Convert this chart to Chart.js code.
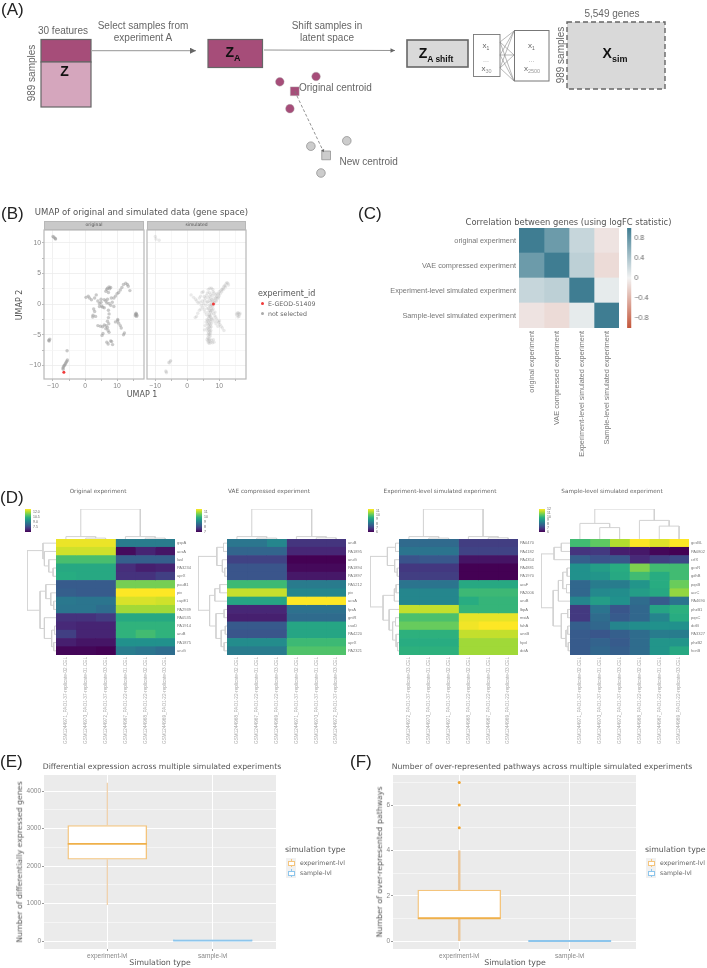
<!DOCTYPE html>
<html>
<head>
<meta charset="utf-8">
<title>Simulated experiments figure</title>
<script src="https://cdn.jsdelivr.net/npm/chart.js@4"></script>
<style>
  html, body { margin: 0; padding: 0; background: #fff; }
  /* the source figure is a soft, resampled bitmap */
  #page { position: relative; width: 707px; height: 968px; overflow: hidden; font-family: "DejaVu Sans", sans-serif; filter: blur(0.4px); }
  #page canvas { position: absolute; }
  #page span { position: absolute; white-space: nowrap; line-height: 1; }
  #page div { position: absolute; box-sizing: border-box; }
  #diagram { position: absolute; left: 0; top: 0; font-family: "Liberation Sans", sans-serif; }
</style>
</head>
<body>
<div id="page">
<svg id="diagram" width="707" height="200" viewBox="0 0 707 200">
  <defs>
    <marker id="head" markerWidth="6" markerHeight="6" refX="5" refY="2.5" orient="auto"><path d="M0,0 L5,2.5 L0,5 z" fill="#666"/></marker>
  </defs>
  <rect x="41" y="39.5" width="50" height="22.5" fill="#a64d79" stroke="#666" stroke-width="1.2"/>
  <rect x="41" y="62" width="50" height="45" fill="#d5a6bd" stroke="#666" stroke-width="1.2"/>
  <text x="64.5" y="76" font-size="14" font-weight="bold" text-anchor="middle" fill="#111">Z</text>
  <text x="63" y="34" font-size="10" text-anchor="middle" fill="#666">30 features</text>
  <text transform="translate(35,73) rotate(-90)" font-size="10" text-anchor="middle" fill="#666">989 samples</text>
  <text x="143" y="28.5" font-size="10" text-anchor="middle" fill="#666">Select samples from</text>
  <text x="143" y="40.5" font-size="10" text-anchor="middle" fill="#666">experiment A</text>
  <line x1="91" y1="50.7" x2="196" y2="50.7" stroke="#aaa" stroke-width="1.2" marker-end="url(#head)"/>
  <rect x="208" y="39.5" width="54.5" height="28" fill="#a64d79" stroke="#666" stroke-width="1.2"/>
  <text x="233" y="57" font-size="14" font-weight="bold" text-anchor="middle" fill="#111">Z<tspan font-size="9" dy="4">A</tspan></text>
  <text x="327" y="28.5" font-size="10" text-anchor="middle" fill="#666">Shift samples in</text>
  <text x="327" y="40.5" font-size="10" text-anchor="middle" fill="#666">latent space</text>
  <line x1="264" y1="50" x2="395" y2="50.5" stroke="#888" stroke-width="0.9" marker-end="url(#head)"/>
  <rect x="407" y="40" width="61" height="27" fill="#d9d9d9" stroke="#666" stroke-width="1.6"/>
  <text x="436" y="58" font-size="14" font-weight="bold" text-anchor="middle" fill="#111">Z<tspan font-size="8.5" dy="4">A shift</tspan></text>
  <rect x="473.5" y="34.5" width="26.5" height="42" fill="#fff" stroke="#777" stroke-width="0.9"/>
  <rect x="514.5" y="30.5" width="34.5" height="50.5" fill="#fff" stroke="#777" stroke-width="1"/>
  <g stroke="#888" stroke-width="0.6">
    <line x1="500" y1="42" x2="514" y2="31"/><line x1="500" y1="42" x2="514" y2="55"/><line x1="500" y1="42" x2="514" y2="81"/>
    <line x1="500" y1="55" x2="514" y2="31"/><line x1="500" y1="55" x2="514" y2="55"/><line x1="500" y1="55" x2="514" y2="81"/>
    <line x1="500" y1="68" x2="514" y2="31"/><line x1="500" y1="68" x2="514" y2="55"/><line x1="500" y1="68" x2="514" y2="81"/>
  </g>
  <text x="486" y="47.5" font-size="8" text-anchor="middle" fill="#666">x<tspan font-size="5" dy="2">1</tspan></text>
  <text x="486" y="62" font-size="7" text-anchor="middle" fill="#aaa">...</text>
  <text x="486.5" y="71" font-size="8" text-anchor="middle" fill="#666">x<tspan font-size="5.5" dy="2" fill="#999">30</tspan></text>
  <text x="531.5" y="47.5" font-size="8" text-anchor="middle" fill="#666">x<tspan font-size="5" dy="2">1</tspan></text>
  <text x="531.5" y="62" font-size="7" text-anchor="middle" fill="#aaa">...</text>
  <text x="532" y="71" font-size="8" text-anchor="middle" fill="#666">x<tspan font-size="5.5" dy="2" fill="#999">2500</tspan></text>
  <rect x="567" y="22" width="98" height="67" fill="#d9d9d9" stroke="#666" stroke-width="1.4" stroke-dasharray="5,3"/>
  <text x="615" y="58" font-size="14" font-weight="bold" text-anchor="middle" fill="#111">X<tspan font-size="9" dy="4">sim</tspan></text>
  <text x="612" y="16.5" font-size="10" text-anchor="middle" fill="#666">5,549 genes</text>
  <text transform="translate(564,55) rotate(-90)" font-size="10" text-anchor="middle" fill="#666">989 samples</text>
  <text x="299" y="90.5" font-size="10" fill="#666">Original centroid</text>
  <text x="339.5" y="164.5" font-size="10" fill="#666">New centroid</text>
</svg>
</div>
<script>
// ---- panel A: latent space marks (canvas units) ----
const latentOriginalX = [15, 57, 26.7];
const latentOriginalY = [113.3, 119.3, 83.3];
const latentShiftedX = [51, 92.7, 62.7];
const latentShiftedY = [41.3, 47.3, 11.3];
const latentCentroidX = [32.3];
const latentCentroidY = [102.7];
const latentNewCentroidX = [68.7];
const latentNewCentroidY = [31];
const latentArrowTipX = [65];
const latentArrowTipY = [36.5];

// ---- panel B: UMAP ----
const umapXTicks = [-10, -5, 0, 5, 10, 15];
const umapYTicks = [-10, -7.5, -5, -2.5, 0, 2.5, 5, 7.5, 10];
const selectedOriginal = [[-6.6, -11.1]];
const selectedSimulated = [[8.2, 0]];
const originalPoints = [
  [-10, 11], [-9.7, 10.9], [-9.3, 10.7], [-9.2, 10.6], [-11.3, -5.9], [-11, -5.7], [-11.2, -6],
  [-6.9, -10.4], [-6.7, -10.2], [-6.5, -10], [-6.3, -9.9], [-6.1, -9.7], [-5.9, -9.5], [-5.7, -9.3], [-5.5, -9.1], [-6.8, -10.6], [-5.6, -7.6],
  [15.7, -1.9], [16, -1.6], [16.2, -1.8], [15.9, -1.5], [16.1, -2], [15.8, -1.7],
  [0.3, 1.1], [1, 1.3], [1.4, 1], [2, 0.7], [3, 1], [3.5, 1.5], [4, 0.5], [4.5, 0.1], [5, 0.3], [4.5, -0.4], [5.2, -0.3], [5, 0.8],
  [6, 0.7], [6.5, 0.5], [7, 0.8], [6.8, 0.2], [7.5, 0.1], [8, -0.2], [8.5, 0.3], [9, -0.4], [8.2, 1], [9, 1], [9.5, 1.3], [10, 1.7],
  [10.5, 1.9], [11, 2.3], [11.5, 2.7], [12, 3.2], [12.7, 3.4], [13.2, 3.2], [13.5, 2.9], [14, 2.2],
  [6.5, 2.1], [7, 2.6], [7.5, 2.8], [8, 2.7], [7.3, 1.9], [6.8, 2.4], [7.7, 2.5],
  [2.5, -1.8], [3, -1.2], [2.7, -0.8], [3.3, -2], [2.4, -2.1], [5.5, -0.5], [6, -0.6], [7.3, -1], [7.5, -1.6], [7.3, -2.2], [7, -2.8],
  [7.4, -3.2], [6.6, -3.5], [7, -3.8], [7.2, -4.3], [4, -3.5], [4.8, -3.6], [5.5, -3.7], [6, -3.4], [6.5, -4], [5.6, -4.8], [5.3, -5.1],
  [7.5, -4.6], [6.8, -6.2], [7.2, -6.5], [8.3, -6.1], [8.6, -6.6], [8, -6], [9.5, -2.9], [10.2, -2.7], [10.5, -3.1], [11, -3.5], [11.3, -3.9],
  [12.3, -4.7], [12, -5], [10.2, -2.5]
];
const simulatedPoints = [
  [-10, 11], [-9.8, 10.6], [-8.8, 10.4], [-6.6, -11], [-6.5, -11.2], [-6.7, -10.9], [-5.6, -9.6], [-5.3, -9.3], [-5.8, -9.5], [-5.2, -9.2],
  [15.4, -1.6], [15.7, -1.8], [16, -1.5], [16.2, -2], [16.4, -1.7], [15.9, -2.1], [16.5, -1.5], [15.8, -1.4],
  [1.2, 1.5], [2, 1.1], [2.6, 0.8], [3, 0.5], [3.4, 0.2], [4, 0.3], [4.4, -0.2], [3.8, 1], [4.6, 1.9], [5, 2], [5.3, 1.2], [5.5, 0.6], [4.9, -0.5], [5.3, -0.9],
  [5.8, -0.2], [6.2, 0.3], [5.6, -1.3], [6, -1.7], [2.9, -2], [2.5, -2.2], [3.3, -1.5], [3.8, -1], [4.3, -0.8], [4.7, 0.5], [5.1, 0.1], [5.7, 1], [6, 1.4], [4.2, 1.3],
  [6.6, 2.4], [7.1, 2.6], [7.6, 2.6], [8, 2.4], [6.9, 1.9], [7.4, 1.6], [7.9, 1.4], [8.4, 1.8], [8.8, 1.5], [9.2, 1.2], [9.6, 1.1], [7, 1.3], [8.1, 2], [6.3, 1.8],
  [7.4, 1], [7.7, 0.7], [8, 0.5], [7.3, 0.3], [7.6, 0], [8, -0.3], [7.2, -0.4], [7.5, -0.7], [7.8, -1], [7, -1], [7.3, -1.3], [7.6, -1.6], [7.1, 0.6], [8.3, 0.3], [6.9, -0.2], [7.7, -0.2], [8.1, -0.8], [6.7, -0.7],
  [6.9, -1.7], [7.2, -2], [7.5, -2.2], [6.8, -2.3], [7.1, -2.6], [7.4, -2.8], [6.7, -2.9], [7, -3.2], [7.3, -3.4], [6.6, -3.4], [6.9, -3.7], [7.2, -3.9],
  [7, -1.9], [7.4, -1.1], [6.6, -2], [6.4, -2.7], [6.3, -3.2], [7.6, -2.5], [7.6, -3.1], [7.5, -3.7], [7.4, -4.3], [6.2, -4], [7.3, -4.7], [7.2, -5.2],
  [6.5, -3.9], [6.8, -4.2], [7.1, -4.4], [6.4, -4.4], [6.7, -4.7], [7, -4.9], [6.5, -5], [6.8, -5.3], [6.4, -5.5], [6.7, -5.7], [6.9, -6], [6.5, -6],
  [7.3, -6.2], [7.9, -6.3], [8.4, -6.2], [6.2, -5.8], [8.2, -5.8], [5.6, -3.5], [5.9, -2.9], [6.2, -2.5], [5.4, -4.2], [7.1, -5.7], [7.6, -5.9], [6.6, -6.3], [7, -6.4],
  [8.3, -1.5], [8.6, -1.9], [8.9, -2.1], [9.2, -2.4], [9.5, -2.8], [9.9, -3], [10.2, -3.3], [10.6, -3.6], [11, -3.9], [11.5, -4.3], [9, -3.2], [9.6, -3.6], [8.1, -2.4], [8.5, -2.8], [10.1, -2.7], [8.7, -1.3],
  [9.3, 1.7], [9.7, 1.6], [10, 2], [10.3, 1.7], [10.6, 2.2], [10.9, 2.4], [11.2, 2.6], [11.5, 2.9], [11.8, 3], [12.1, 3.3], [12.4, 3.5], [12.7, 3.4], [12.9, 3.1], [10.8, 2], [11.4, 2.4], [12, 2.8],
  [8.4, 0.9], [8.8, 0.6], [9.2, 0.5], [9.5, 0.9], [6.6, 1], [6.4, 0.4], [6.2, -0.7], [6.6, -1.3], [10, 1.3], [8.9, 1], [8.6, 0.2]
];

// ---- panel C: correlation ----
const corrLabels = ['original experiment', 'VAE compressed experiment', 'Experiment-level simulated experiment', 'Sample-level simulated experiment'];
const corrValues = [
  [1, 0.75, 0.25, -0.1],
  [0.75, 1, 0.3, -0.15],
  [0.25, 0.3, 1, 0.07],
  [-0.1, -0.15, 0.07, 1]
];
const corrTicks = [-0.8, -0.4, 0, 0.4, 0.8];

// ---- panel D: clustered heatmaps ----
const originalGenes = ['gspA', 'acsA', 'lasI', 'PA3234', 'aprX', 'pauB1', 'piv', 'cupE1', 'PA2939', 'PA0535', 'PA1914', 'aruB', 'PA1875', 'aruG'];
const originalSamples = ['GSM1244971_PAO1-37-replicate-02.CEL', 'GSM1244970_PAO1-37-replicate-01.CEL', 'GSM1244972_PAO1-37-replicate-03.CEL', 'GSM1244967_PAO1-22-replicate-01.CEL', 'GSM1244968_PAO1-22-replicate-02.CEL', 'GSM1244969_PAO1-22-replicate-03.CEL'];
const originalExpr = [
  [12.8, 12.8, 12.8, 8.9, 8.9, 8.9],
  [12.5, 12.5, 12.5, 6.2, 6.7, 6.4],
  [10.9, 10.9, 10.9, 8.1, 8.1, 8.1],
  [10.2, 10.2, 10.2, 6.9, 6.6, 6.7],
  [10.3, 10.2, 10.2, 7, 7, 7.3],
  [8, 8, 8, 11.5, 11.5, 11.5],
  [8.1, 8, 8, 13, 13, 13],
  [8.8, 8.7, 8.7, 12.6, 12.6, 12.5],
  [8.7, 8.7, 8.5, 12, 12, 12],
  [7, 7, 7.2, 10.2, 10.2, 10.2],
  [6.8, 6.7, 6.7, 10.5, 10.5, 10.5],
  [7.3, 6.7, 6.7, 10.5, 10.8, 10.5],
  [6.6, 6.4, 6.4, 9.5, 9.5, 9.5],
  [6.1, 6.1, 6, 8.9, 8.7, 8.5]
];
const vaeGenes = ['aruB', 'PA1895', 'aruG', 'PA1894', 'PA1897', 'PA5212', 'piv', 'acsA', 'fpsA', 'gntR', 'csoD', 'PA4220', 'aprX', 'PA2321'];
const vaeSamples = ['GSM1244968_PAO1-22-replicate-02.CEL', 'GSM1244967_PAO1-22-replicate-01.CEL', 'GSM1244969_PAO1-22-replicate-03.CEL', 'GSM1244971_PAO1-37-replicate-02.CEL', 'GSM1244970_PAO1-37-replicate-01.CEL', 'GSM1244972_PAO1-37-replicate-03.CEL'];
const vaeExpr = [
  [8.8, 8.8, 9.1, 7.7, 7.7, 7.7],
  [8.5, 8.5, 8.5, 7.5, 7.5, 7.5],
  [7.9, 7.9, 7.9, 7, 7, 7],
  [8.2, 8.2, 8.2, 7.1, 7.1, 7.1],
  [8.2, 8.2, 8.2, 7.3, 7.3, 7.3],
  [10.1, 10.1, 10.1, 8.9, 8.9, 8.9],
  [11.2, 11.2, 11.2, 9.1, 9.1, 9.1],
  [9.7, 9.7, 9.7, 11.6, 11.6, 11.6],
  [7.5, 7.5, 7.5, 8.7, 8.7, 8.7],
  [7.4, 7.4, 7.4, 8.6, 8.6, 8.6],
  [8.3, 8.3, 8.3, 9.7, 9.7, 9.7],
  [8.2, 8.2, 8.2, 9.7, 9.7, 9.7],
  [9.2, 9.2, 9.2, 10.1, 10.1, 10.1],
  [8.9, 8.9, 8.9, 10.3, 10.3, 10.3]
];
const experimentGenes = ['PA0470', 'PA4182', 'PA4354', 'PA4881', 'PA1970', 'araF', 'PA2006', 'aruB', 'lbpA', 'msiA', 'fahA', 'ansB', 'hpd', 'dctA'];
const experimentSamples = ['GSM1244972_PAO1-37-replicate-03.CEL', 'GSM1244970_PAO1-37-replicate-01.CEL', 'GSM1244971_PAO1-37-replicate-02.CEL', 'GSM1244968_PAO1-22-replicate-02.CEL', 'GSM1244967_PAO1-22-replicate-01.CEL', 'GSM1244969_PAO1-22-replicate-03.CEL'];
const experimentExpr = [
  [7.9, 7.9, 7.9, 7, 7, 7],
  [8.1, 8.1, 8.1, 7.1, 7.1, 7.1],
  [7.4, 7.5, 7.5, 6.3, 6.3, 6.3],
  [6.9, 6.9, 6.9, 6, 6, 6],
  [7, 7, 7, 6, 6, 6],
  [8.1, 8.1, 8.1, 9.3, 9.3, 9.3],
  [8.5, 8.5, 8.5, 9.7, 9.7, 9.7],
  [8.5, 8.5, 8.5, 9.4, 9.6, 9.6],
  [11, 11, 11, 9.6, 9.6, 9.6],
  [9.9, 9.9, 9.9, 11.3, 11.3, 11.3],
  [10.2, 10.2, 10.2, 11.4, 11.5, 11.5],
  [9.5, 9.5, 9.5, 11, 11, 11],
  [9.4, 9.4, 9.4, 10.7, 10.7, 10.7],
  [9.5, 9.5, 9.5, 10.7, 10.7, 10.7]
];
const sampleGenes = ['gcsBL', 'PA0802', 'crfX', 'gcsR', 'gdhB', 'pqsB', 'acrC', 'PA4690', 'phzB1', 'pqsC', 'dctB', 'PA3327', 'phzB2', 'hcnB'];
const sampleSamples = ['GSM1244971_PAO1-37-replicate-02.CEL', 'GSM1244970_PAO1-37-replicate-01.CEL', 'GSM1244972_PAO1-37-replicate-03.CEL', 'GSM1244968_PAO1-22-replicate-02.CEL', 'GSM1244967_PAO1-22-replicate-01.CEL', 'GSM1244969_PAO1-22-replicate-03.CEL'];
const sampleExpr = [
  [10.1, 10.5, 11.3, 12, 11.7, 12],
  [6.9, 7, 6.5, 6.4, 6.1, 6],
  [7.8, 7.5, 7.6, 6.7, 7.1, 7.3],
  [9, 9.3, 9.7, 10.8, 10.1, 10.1],
  [9, 9.1, 9.6, 10.1, 9.7, 10.1],
  [8, 8.5, 8.5, 9.1, 9.7, 10.6],
  [8, 8.8, 8.9, 9.3, 9.6, 11],
  [8.7, 9.3, 9, 8.1, 7.7, 8.3],
  [7, 8.3, 7.6, 8, 9.5, 9.8],
  [7, 8.1, 7.7, 8, 8.7, 9.7],
  [7.8, 8, 8.7, 8.9, 9, 9],
  [7.7, 7.6, 7.8, 8.1, 8.5, 8.5],
  [7.7, 7.9, 7.7, 8.1, 9.1, 9.1],
  [7.7, 8, 7.8, 8.1, 9.1, 9.6]
];

// dendrogram merges: [position a, position b, height a, height b, merge height]
const originalColTree = [[1.5, 2.5, 0, 0, 0.03], [0.5, 2, 0, 0.03, 0.08], [4.5, 5.5, 0, 0, 0.03], [3.5, 5, 0, 0.03, 0.08], [1.25, 4.25, 0.08, 0.08, 1]];
const originalRowTree = [
  [3.5, 4.5, 0, 0, 0.1], [2.5, 4, 0, 0.1, 0.25], [1.5, 3.25, 0, 0.25, 0.4], [0.5, 2.4, 0, 0.4, 0.45],
  [7.5, 8.5, 0, 0, 0.08], [6.5, 8, 0, 0.08, 0.18], [5.5, 7.2, 0, 0.18, 0.35],
  [10.5, 11.5, 0, 0, 0.05], [12.5, 13.5, 0, 0, 0.08], [11, 13, 0.05, 0.08, 0.15], [9.5, 12, 0, 0.15, 0.4],
  [6.3, 10.8, 0.35, 0.4, 0.55], [1.4, 8.6, 0.45, 0.55, 1]
];
const vaeColTree = [[1.5, 2.5, 0, 0, 0.03], [0.5, 2, 0, 0.03, 0.08], [4.5, 5.5, 0, 0, 0.04], [3.5, 5, 0, 0.04, 0.08], [1.25, 4.27, 0.08, 0.08, 1]];
const vaeRowTree = [
  [3.5, 4.5, 0, 0, 0.08], [2.5, 4, 0, 0.08, 0.16], [0.5, 1.5, 0, 0, 0.12], [1, 3.2, 0.12, 0.16, 0.35],
  [5.5, 6.5, 0, 0, 0.25], [6, 7.5, 0.25, 0, 0.42], [8.5, 9.5, 0, 0, 0.1], [10.5, 11.5, 0, 0, 0.06], [12.5, 13.5, 0, 0, 0.1],
  [11, 13, 0.06, 0.1, 0.2], [9, 12, 0.1, 0.2, 0.38], [6.8, 10.5, 0.42, 0.38, 0.6], [2.1, 8.6, 0.35, 0.6, 1]
];
const experimentColTree = [[1.5, 2.5, 0, 0, 0.03], [0.5, 2, 0, 0.03, 0.08], [4.5, 5.5, 0, 0, 0.04], [3.5, 5, 0, 0.04, 0.08], [1.23, 4.24, 0.08, 0.08, 1]];
const experimentRowTree = [
  [0.5, 1.5, 0, 0, 0.12], [3.5, 4.5, 0, 0, 0.06], [2.5, 4, 0, 0.06, 0.15], [1, 3.2, 0.12, 0.15, 0.4],
  [5.5, 6.5, 0, 0, 0.1], [6, 7.5, 0.1, 0, 0.16], [9.5, 10.5, 0, 0, 0.12], [12.5, 13.5, 0, 0, 0.05], [11.5, 13, 0, 0.05, 0.1], [10, 12.2, 0.12, 0.1, 0.22],
  [8.5, 11, 0, 0.22, 0.34], [6.8, 9.8, 0.16, 0.34, 0.55], [2.1, 8.2, 0.4, 0.55, 1]
];
const sampleColTree = [[1.5, 2.5, 0, 0, 0.38], [0.5, 2, 0, 0.38, 0.52], [4.5, 5.5, 0, 0, 0.43], [3.5, 5, 0, 0.43, 0.62], [1.25, 4.25, 0.52, 0.62, 1]];
const sampleRowTree = [
  [0.5, 1.5, 0, 0, 0.3], [1, 2.5, 0.3, 0, 0.55], [3.5, 4.5, 0, 0, 0.1], [5.5, 6.5, 0, 0, 0.12], [4, 6, 0.1, 0.12, 0.25], [5, 7.5, 0.25, 0, 0.4],
  [8.5, 9.5, 0, 0, 0.08], [10.5, 11.5, 0, 0, 0.08], [12.5, 13.5, 0, 0, 0.06], [11, 13, 0.08, 0.06, 0.14], [9, 12, 0.08, 0.14, 0.3],
  [6.2, 10.5, 0.4, 0.3, 0.58], [1.8, 8.3, 0.55, 0.58, 1]
];

// ---- panels E and F: box plots ----
const simulationTypes = ['experiment-lvl', 'sample-lvl'];
const degMin = [960, 0];
const degQ1 = [2180, 0];
const degMedian = [2590, 8];
const degQ3 = [3080, 30];
const degMax = [4220, 30];
const pathMin = [0, 0];
const pathQ1 = [1, 0];
const pathMedian = [1, 0];
const pathQ3 = [2.25, 0];
const pathMax = [4, 0];
const pathOutliers = [5, 6, 7];

// ---- helpers ----
const page = document.getElementById('page');
const viridisStops = ['#440154', '#472d7b', '#3b528b', '#2c728e', '#21918c', '#28ae80', '#5ec962', '#addc30', '#fde725'];
const divergingStops = ['#c4563a', '#f3f3f3', '#3f7d92'];

function hexToRgb(hex) {
  return [1, 3, 5].map(i => parseInt(hex.slice(i, i + 2), 16));
}

function rampColor(stops, t) {
  const p = Math.min(Math.max(t, 0), 1) * (stops.length - 1);
  const i = Math.min(Math.floor(p), stops.length - 2);
  const a = hexToRgb(stops[i]);
  const b = hexToRgb(stops[i + 1]);
  const f = p - i;
  return 'rgb(' + a.map((c, k) => Math.round(c + (b[k] - c) * f)).join(',') + ')';
}

function addCanvas(x, y, w, h) {
  const canvas = document.createElement('canvas');
  canvas.width = w;
  canvas.height = h;
  canvas.style.left = x + 'px';
  canvas.style.top = y + 'px';
  canvas.style.width = w + 'px';
  canvas.style.height = h + 'px';
  page.appendChild(canvas);
  return canvas;
}

function addText(text, x, y, size, opts = {}) {
  const span = document.createElement('span');
  span.textContent = text;
  span.style.left = x + 'px';
  span.style.top = y + 'px';
  span.style.fontSize = size + 'px';
  span.style.color = opts.color || '#555';
  if (opts.font) span.style.fontFamily = opts.font;
  const hShift = opts.align === 'left' ? '0' : '-50%';
  span.style.transform = 'translate(' + hShift + ',-50%)' + (opts.rotate ? ' rotate(' + opts.rotate + 'deg)' : '');
  page.appendChild(span);
}

function addBox(x, y, w, h, css) {
  const div = document.createElement('div');
  div.style.left = x + 'px';
  div.style.top = y + 'px';
  div.style.width = w + 'px';
  div.style.height = h + 'px';
  Object.assign(div.style, css);
  page.appendChild(div);
}

const baseOptions = () => ({
  responsive: false,
  animation: false,
  devicePixelRatio: 1,
  plugins: { legend: { display: false }, tooltip: { enabled: false } },
  events: []
});

const MARGIN = 4;

// fixed axis sizes so the chart area lands exactly where the figure wants it
function fixHeight(size) {
  return s => { s.height = size; s.paddingLeft = 0; s.paddingRight = 0; };
}
function fixWidth(size) {
  return s => { s.width = size; s.paddingTop = 0; s.paddingBottom = 0; };
}

const panelFrame = {
  id: 'panelFrame',
  beforeDraw(chart, args, o) {
    if (!o.fill) return;
    const a = chart.chartArea;
    chart.ctx.fillStyle = o.fill;
    chart.ctx.fillRect(a.left, a.top, a.width, a.height);
  },
  afterDraw(chart, args, o) {
    if (!o.stroke) return;
    const a = chart.chartArea;
    chart.ctx.strokeStyle = o.stroke;
    chart.ctx.lineWidth = o.width || 1;
    chart.ctx.strokeRect(a.left, a.top, a.width, a.height);
  }
};

function heatmap(box, rowLabels, colLabels, matrix, colorOf, style) {
  const canvas = addCanvas(box.x - style.left - MARGIN, box.y - MARGIN,
    box.w + style.left + style.right + MARGIN * 2, box.h + style.bottom + MARGIN * 2);
  const options = baseOptions();
  options.indexAxis = 'y';
  options.layout = { padding: MARGIN };
  options.scales = {
    x: {
      type: 'linear', stacked: true, min: 0, max: colLabels.length,
      grid: { display: false, drawTicks: false }, border: { display: false },
      afterBuildTicks: s => { s.ticks = colLabels.map((c, i) => ({ value: i + 0.5 })); },
      afterFit: fixHeight(style.bottom),
      ticks: {
        autoSkip: false, minRotation: 90, maxRotation: 90, padding: style.padding,
        color: style.colColor, font: { size: style.colSize },
        callback: v => colLabels[Math.floor(v)]
      }
    },
    y: {
      type: 'category', stacked: true, position: style.left ? 'left' : 'right',
      grid: { display: false, drawTicks: false }, border: { display: false },
      afterFit: fixWidth(style.left || style.right),
      ticks: { autoSkip: false, padding: style.padding, color: style.color, font: { size: style.size } }
    }
  };
  new Chart(canvas, {
    type: 'bar',
    data: {
      labels: rowLabels,
      datasets: colLabels.map((c, col) => ({
        label: c,
        data: rowLabels.map(() => 1),
        backgroundColor: rowLabels.map((r, row) => colorOf(matrix[row][col])),
        borderWidth: 0,
        barPercentage: 1,
        categoryPercentage: 1
      }))
    },
    options
  });
}

function colorbar(box, min, max, ticks, stops, size, labelSpace, padding) {
  const canvas = addCanvas(box.x - MARGIN, box.y - MARGIN, box.w + labelSpace + MARGIN * 2, box.h + MARGIN * 2);
  const options = baseOptions();
  options.layout = { padding: MARGIN };
  options.scales = {
    x: { display: false },
    y: {
      position: 'right', min, max,
      grid: { display: false, drawTicks: false }, border: { display: false },
      afterBuildTicks: s => { s.ticks = ticks.map(value => ({ value })); },
      afterFit: fixWidth(labelSpace),
      ticks: { autoSkip: false, padding, color: '#666', font: { size }, callback: v => (Number.isInteger(v) && max - min > 6 ? v.toFixed(1) : (v < 0 ? '−' + Math.abs(v) : String(v))) }
    }
  };
  new Chart(canvas, {
    type: 'bar',
    data: {
      labels: [''],
      datasets: [{
        data: [[min, max]],
        barPercentage: 1,
        categoryPercentage: 1,
        backgroundColor: ctx => {
          const a = ctx.chart.chartArea;
          if (!a) return stops[0];
          const g = ctx.chart.ctx.createLinearGradient(0, a.bottom, 0, a.top);
          stops.forEach((c, i) => g.addColorStop(i / (stops.length - 1), c));
          return g;
        }
      }]
    },
    options
  });
}

function dendrogram(x, y, w, h, merges, leaves, vertical) {
  const canvas = addCanvas(x, y, w, h);
  const options = baseOptions();
  options.scales = vertical
    ? {
        x: { type: 'linear', display: false, min: 0, max: leaves },
        y: { type: 'linear', display: false, min: 0, max: 1 }
      }
    : {
        x: { type: 'linear', display: false, min: 0, max: 1, reverse: true },
        y: { type: 'linear', display: false, min: 0, max: leaves, reverse: true }
      };
  const toPoint = vertical ? (pos, ht) => ({ x: pos, y: ht }) : (pos, ht) => ({ x: ht, y: pos });
  new Chart(canvas, {
    type: 'scatter',
    data: {
      datasets: merges.map(m => ({
        data: [toPoint(m[0], m[2]), toPoint(m[0], m[4]), toPoint(m[1], m[4]), toPoint(m[1], m[3])],
        showLine: true,
        borderColor: '#d2d2d2',
        borderWidth: 1,
        pointRadius: 0,
        clip: false
      }))
    },
    options
  });
}

function umapFacet(area, points, selected, alpha, showY) {
  const left = showY ? 20 : 0;
  const bottom = 14;
  const canvas = addCanvas(area.x - left - MARGIN, area.y - MARGIN, area.w + left + MARGIN * 2, area.h + bottom + MARGIN * 2);
  const options = baseOptions();
  options.layout = { padding: MARGIN };
  options.plugins.panelFrame = { stroke: '#b8b8b8', width: 1.2 };
  options.scales = {
    x: {
      type: 'linear', min: area.xMin, max: area.xMax,
      grid: { color: c => (c.tick.value % 10 === 0 ? '#ececec' : '#f5f5f5'), lineWidth: 0.8, tickColor: '#aaa', tickLength: 2 },
      border: { display: false },
      afterBuildTicks: s => { s.ticks = umapXTicks.map(value => ({ value })); },
      afterFit: fixHeight(bottom),
      ticks: { autoSkip: false, maxRotation: 0, padding: 1, color: '#888', font: { size: 6.8 }, callback: v => (v % 10 === 0 ? String(v).replace('-', '−') : '') }
    },
    y: {
      type: 'linear', min: area.yMin, max: area.yMax,
      grid: { color: c => (c.tick.value % 5 === 0 ? '#ececec' : '#f5f5f5'), lineWidth: 0.8, drawTicks: showY, tickLength: 2, tickColor: '#aaa' },
      border: { display: false },
      afterBuildTicks: s => { s.ticks = umapYTicks.map(value => ({ value })); },
      afterFit: fixWidth(left),
      ticks: { display: showY, autoSkip: false, padding: 1, color: '#888', font: { size: 6.8 }, callback: v => (v % 5 === 0 ? String(v).replace('-', '−') : '') }
    }
  };
  new Chart(canvas, {
    type: 'scatter',
    data: {
      datasets: [
        { data: selected.map(p => ({ x: p[0], y: p[1] })), pointRadius: 1.5, backgroundColor: '#f03a3a', borderWidth: 0 },
        { data: points.map(p => ({ x: p[0], y: p[1] })), pointRadius: 1.7, backgroundColor: 'rgba(150,150,150,' + alpha + ')', borderWidth: 0 }
      ]
    },
    options,
    plugins: [panelFrame]
  });
}

function boxplot(area, ticksY, minorStep, mins, q1s, medians, q3s, maxes, outliers, whiskerWidth, boxPx, tickFormat) {
  const left = 24;
  const bottom = 12;
  const canvas = addCanvas(area.x - left - MARGIN, area.y - MARGIN, area.w + left + MARGIN * 2, area.h + bottom + MARGIN * 2);
  const boxHalf = 0.375;
  const colors = ['#f4c47c', '#8cc5ec'];
  const medianColors = ['#efb04a', '#8cc5ec'];
  const datasets = [{
    type: 'bar',
    data: simulationTypes.map((t, i) => ({ x: i + 1, y: [q1s[i], q3s[i]] })),
    backgroundColor: '#fff',
    borderColor: colors,
    borderWidth: 1.4,
    borderSkipped: false,
    barThickness: boxPx,
    order: 2
  }];
  simulationTypes.forEach((t, i) => {
    datasets.push({
      type: 'line', data: [{ x: i + 1, y: mins[i] }, { x: i + 1, y: q1s[i] }],
      borderColor: i ? colors[i] : '#ecc596', borderWidth: whiskerWidth, pointRadius: 0, order: 3
    });
    datasets.push({
      type: 'line', data: [{ x: i + 1, y: q3s[i] }, { x: i + 1, y: maxes[i] }],
      borderColor: i ? colors[i] : '#ecc596', borderWidth: whiskerWidth, pointRadius: 0, order: 3
    });
    datasets.push({
      type: 'line', data: [{ x: i + 1 - boxHalf, y: medians[i] }, { x: i + 1 + boxHalf, y: medians[i] }],
      borderColor: medianColors[i], borderWidth: 1.8, pointRadius: 0, order: 1
    });
  });
  if (outliers.length) {
    datasets.push({
      type: 'scatter', data: outliers.map(v => ({ x: 1, y: v })),
      backgroundColor: '#f0a32e', pointRadius: 1.5, borderWidth: 0, order: 0
    });
  }
  const options = baseOptions();
  options.layout = { padding: MARGIN };
  options.plugins.panelFrame = { fill: '#ebebeb' };
  options.scales = {
    x: {
      type: 'linear', min: 0.4, max: 2.6, offset: false,
      grid: { color: '#fff', lineWidth: 1, offset: false, tickColor: '#999', tickLength: 2 },
      border: { display: false },
      afterBuildTicks: s => { s.ticks = simulationTypes.map((t, i) => ({ value: i + 1 })); },
      afterFit: fixHeight(bottom),
      ticks: { autoSkip: false, maxRotation: 0, padding: 1, color: '#888', font: { size: 6.5 }, callback: v => simulationTypes[v - 1] }
    },
    y: {
      type: 'linear', min: area.yMin, max: area.yMax,
      grid: {
        color: '#fff',
        lineWidth: c => (ticksY.includes(c.tick.value) ? 1 : 0.5),
        tickColor: c => (ticksY.includes(c.tick.value) ? '#999' : 'transparent'),
        tickLength: 2
      },
      border: { display: false },
      afterBuildTicks: s => {
        const all = [];
        for (let v = 0; v <= area.yMax; v += minorStep) all.push({ value: v });
        s.ticks = all;
      },
      afterFit: fixWidth(left),
      ticks: { autoSkip: false, padding: 1, color: '#888', font: { size: 6.5 }, callback: v => (ticksY.includes(v) ? tickFormat(v) : '') }
    }
  };
  new Chart(canvas, { data: { datasets }, options, plugins: [panelFrame] });
}

function boxLegend(x, y) {
  addText('simulation type', x - 1, y, 7.8, { align: 'left', color: '#555' });
  const keys = ['#f4c47c', '#8cc5ec'];
  simulationTypes.forEach((t, i) => {
    const top = y + 8 + i * 10;
    addBox(x, top, 10, 10, { background: '#f0f0f0' });
    addBox(x + 4.6, top + 1, 0.8, 8, { background: keys[i] });
    addBox(x + 1.5, top + 2.5, 7, 5, { background: '#fff', border: '1px solid ' + keys[i] });
    addText(t, x + 14, top + 5, 6.2, { align: 'left', color: '#666' });
  });
}

// ---- panel letters ----
[['(A)', 1, 9], ['(B)', 1, 213], ['(C)', 358, 213], ['(D)', 0, 497], ['(E)', 0, 761], ['(F)', 350, 761]].forEach(p => {
  addText(p[0], p[1], p[2], 17, { align: 'left', color: '#222', font: '"Liberation Sans", sans-serif' });
});

// ---- panel A latent scatter ----
(function latentScatter() {
  const canvas = addCanvas(260, 60, 100, 130);
  const options = baseOptions();
  options.scales = {
    x: { type: 'linear', display: false, min: 0, max: 100 },
    y: { type: 'linear', display: false, min: 0, max: 130 }
  };
  const pair = (xs, ys) => xs.map((v, i) => ({ x: v, y: ys[i] }));
  new Chart(canvas, {
    type: 'scatter',
    data: {
      datasets: [
        {
          data: [...pair(latentCentroidX, latentCentroidY), ...pair(latentArrowTipX, latentArrowTipY)],
          showLine: true, borderColor: '#777', borderWidth: 0.8, borderDash: [3, 2],
          pointStyle: 'triangle', pointRotation: 158, pointRadius: [0, 2], backgroundColor: '#666', pointBorderWidth: 0
        },
        { data: pair(latentOriginalX, latentOriginalY), backgroundColor: '#a64d79', borderColor: '#aaa', borderWidth: 0.4, pointRadius: 4.3 },
        { data: pair(latentShiftedX, latentShiftedY), backgroundColor: '#cccccc', borderColor: '#888', borderWidth: 0.7, pointRadius: 4.3 },
        { data: pair(latentCentroidX, latentCentroidY), pointStyle: 'rect', backgroundColor: '#a64d79', borderColor: '#aaa', borderWidth: 0.4, pointRadius: 6.2 },
        { data: pair(latentNewCentroidX, latentNewCentroidY), pointStyle: 'rect', backgroundColor: '#cccccc', borderColor: '#888', borderWidth: 0.7, pointRadius: 6.2 }
      ]
    },
    options
  });
})();

// ---- panel B ----
addText('UMAP of original and simulated data (gene space)', 141.5, 212, 8.5, { color: '#555' });
addBox(44, 221, 100, 9, { background: '#c9c9c9', border: '1px solid #b8b8b8' });
addBox(147, 221, 99, 9, { background: '#c9c9c9', border: '1px solid #b8b8b8' });
addText('original', 94, 225, 4.5, { color: '#555' });
addText('simulated', 196.5, 225, 4.5, { color: '#555' });
umapFacet({ x: 44, y: 230, w: 100, h: 149, xMin: -12.8, xMax: 18.4, yMin: -12.2, yMax: 12.07 }, originalPoints, selectedOriginal, 0.5, true);
umapFacet({ x: 147, y: 230, w: 99, h: 149, xMin: -12.6, xMax: 18.4, yMin: -12.2, yMax: 12.07 }, simulatedPoints, selectedSimulated, 0.2, false);
addText('UMAP 1', 142, 395, 8, { color: '#555' });
addText('UMAP 2', 20, 305, 8, { color: '#555', rotate: -90 });
addText('experiment_id', 258, 294, 8, { align: 'left', color: '#555' });
addBox(260.5, 302, 3, 3, { background: '#f03a3a', borderRadius: '50%' });
addBox(260.5, 312, 3, 3, { background: '#aaa', borderRadius: '50%' });
addText('E-GEOD-51409', 268, 303.5, 6.3, { align: 'left', color: '#666' });
addText('not selected', 268, 313.5, 6.3, { align: 'left', color: '#666' });

// ---- panel C ----
addText('Correlation between genes (using logFC statistic)', 568.5, 222, 8.35, { color: '#555' });
heatmap({ x: 518.5, y: 228, w: 100.5, h: 100 }, corrLabels, corrLabels, corrValues,
  v => rampColor(divergingStops, (v + 1) / 2),
  { left: 160, right: 0, bottom: 145, padding: 3, size: 7.3, colSize: 7.3, color: '#777', colColor: '#777' });
colorbar({ x: 627, y: 228, w: 4.6, h: 100 }, -1, 1, corrTicks, divergingStops, 7, 26, 3);

// ---- panel D ----
const heatTop = 539;
const heatW = 119;
const heatH = 116;
const geneStyle = { left: 0, right: 26, bottom: 92, padding: 2, size: 4, colSize: 4.7, color: '#777', colColor: '#aaa' };

[
  { title: 'Original experiment', titleX: 98, x: 56, bar: 25, min: 6, max: 13, ticks: [7.5, 9, 10.5, 12], genes: originalGenes, samples: originalSamples, expr: originalExpr, colTree: originalColTree, rowTree: originalRowTree },
  { title: 'VAE compressed experiment', titleX: 269, x: 227, bar: 196, min: 7, max: 11.6, ticks: [7, 8, 9, 10, 11], genes: vaeGenes, samples: vaeSamples, expr: vaeExpr, colTree: vaeColTree, rowTree: vaeRowTree },
  { title: 'Experiment-level simulated experiment', titleX: 440, x: 398.7, bar: 367.5, min: 6, max: 11.5, ticks: [6, 7, 8, 9, 10, 11], genes: experimentGenes, samples: experimentSamples, expr: experimentExpr, colTree: experimentColTree, rowTree: experimentRowTree },
  { title: 'Sample-level simulated experiment', titleX: 612, x: 570, bar: 539, min: 6, max: 12, ticks: [6, 7, 8, 9, 10, 11, 12], genes: sampleGenes, samples: sampleSamples, expr: sampleExpr, colTree: sampleColTree, rowTree: sampleRowTree }
].forEach(p => {
  addText(p.title, p.titleX, 492, 5.7, { color: '#666' });
  heatmap({ x: p.x, y: heatTop, w: heatW, h: heatH }, p.genes, p.samples, p.expr,
    v => rampColor(viridisStops, (v - p.min) / (p.max - p.min)), geneStyle);
  colorbar({ x: p.bar, y: 509, w: 6, h: 23 }, p.min, p.max, p.ticks, viridisStops, 3.5, 14, 2);
  dendrogram(p.x, 509, heatW, 30, p.colTree, 6, true);
  dendrogram(p.x - 29, heatTop, 29, heatH, p.rowTree, 14, false);
});

// ---- panel E ----
addText('Differential expression across multiple simulated experiments', 162, 767, 7.7, { color: '#555' });
boxplot({ x: 44, y: 775, w: 232, h: 174, yMin: -213, yMax: 4427 }, [0, 1000, 2000, 3000, 4000], 500,
  degMin, degQ1, degMedian, degQ3, degMax, [], 1, 79, v => String(v));
addText('Simulation type', 160, 963, 7.8, { color: '#555' });
addText('Number of differentially expressed genes', 20, 862, 7.8, { color: '#555', rotate: -90 });
boxLegend(286, 850);

// ---- panel F ----
addText('Number of over-represented pathways across multiple simulated experiments', 542, 767, 7.7, { color: '#555' });
boxplot({ x: 392.6, y: 775, w: 243.4, h: 174, yMin: -0.353, yMax: 7.33 }, [0, 2, 4, 6], 1,
  pathMin, pathQ1, pathMedian, pathQ3, pathMax, pathOutliers, 2.4, 83, v => String(v));
addText('Simulation type', 515, 963, 7.8, { color: '#555' });
addText('Number of over-represented pathways', 380, 862, 7.8, { color: '#555', rotate: -90 });
boxLegend(646, 850);
</script>
</body>
</html>
